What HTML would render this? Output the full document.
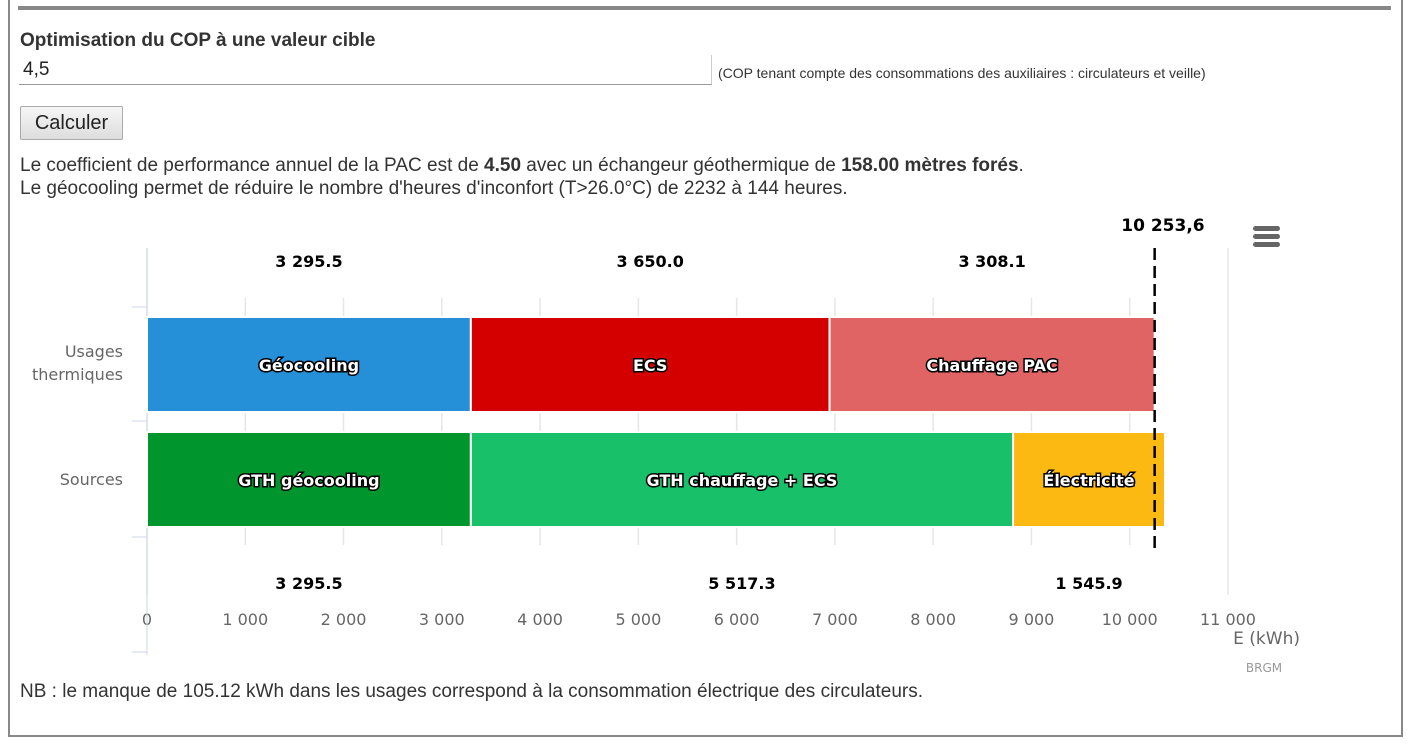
<!DOCTYPE html>
<html><head><meta charset="utf-8"><style>
body{margin:0;width:1410px;height:748px;background:#fff;font-family:"Liberation Sans",sans-serif;color:#333;position:relative;overflow:hidden}
.frame{position:absolute;left:8px;top:0;width:1391px;height:735px;border-left:2px solid #888;border-right:2px solid #888;border-bottom:2px solid #888}
.abs{position:absolute}
</style></head><body>
<div class="frame"></div>
<div class="abs" style="left:18px;top:6px;width:1373px;height:4px;background:#888"></div>
<div class="abs" style="left:20px;top:30px;font-size:19px;font-weight:bold;color:#333">Optimisation du COP à une valeur cible</div>
<div class="abs" style="left:19px;top:55px;width:688px;height:29px;border-bottom:1px solid #999;border-right:1px solid #ccc;font-size:19px;line-height:29px;padding-left:4px;color:#222">4,5</div>
<div class="abs" style="left:718px;top:65px;font-size:14px;color:#333">(COP tenant compte des consommations des auxiliaires : circulateurs et veille)</div>
<div class="abs" style="left:20px;top:106px;width:101px;height:32px;border:1px solid #aaa;border-radius:2px;background:linear-gradient(#f6f6f6,#ddd);font-size:20px;line-height:32px;text-align:center;color:#222">Calculer</div>
<div class="abs" style="left:20px;top:154px;font-size:19px;line-height:23px;color:#333">Le coefficient de performance annuel de la PAC est de <b>4.50</b> avec un échangeur géothermique de <b>158.00 mètres forés</b>.<br>Le géocooling permet de réduire le nombre d'heures d'inconfort (T&gt;26.0°C) de 2232 à 144 heures.</div>
<div class="abs" style="left:20px;top:681px;font-size:19px;color:#333">NB : le manque de 105.12 kWh dans les usages correspond à la consommation électrique des circulateurs.</div>
<svg class="abs" style="left:0;top:0" width="1410" height="748" id="chart"></svg>
<script>
const categories=["Usages thermiques","Sources"];
const thermalNames=["Géocooling","ECS","Chauffage PAC"];
const thermalValues=[3295.5,3650.0,3308.1];
const thermalLabels=["3 295.5","3 650.0","3 308.1"];
const sourceNames=["GTH géocooling","GTH chauffage + ECS","Électricité"];
const sourceValues=[3295.5,5517.3,1545.9];
const sourceLabels=["3 295.5","5 517.3","1 545.9"];
const ticks=[0,1000,2000,3000,4000,5000,6000,7000,8000,9000,10000,11000];
const tickLabels=["0","1 000","2 000","3 000","4 000","5 000","6 000","7 000","8 000","9 000","10 000","11 000"];
const totalValue=10253.6;
const totalLabel="10 253,6";
const thermalColors=["#2590d8","#d40000","#e06464"];
const sourceColors=["#00962d","#18c06a","#fbb912"];
const svg=document.getElementById('chart');const NS="http://www.w3.org/2000/svg";
const x=v=>147+v*(1228-147)/11000;
function el(t,a,txt){const e=document.createElementNS(NS,t);for(const k in a)e.setAttribute(k,a[k]);if(txt!=null)e.textContent=txt;svg.appendChild(e);return e;}
const F='"DejaVu Sans","Liberation Sans",sans-serif';
ticks.forEach((t,i)=>{
 const edge=(i==0||i==ticks.length-1);
 const g=el('line',{x1:x(t),x2:x(t),y1:edge?248:298,y2:edge?595:545,stroke:'#e6e6e6','stroke-width':1.5});
 
 const l=el('text',{x:x(t),y:625,'text-anchor':'middle','font-size':16,fill:'#666','font-family':F},tickLabels[i]);
 
});
el('line',{x1:147,x2:147,y1:248,y2:655,stroke:'#ccd6eb','stroke-width':1});
[307,421,537,652].forEach(y=>el('line',{x1:132,x2:147,y1:y,y2:y,stroke:'#ccd6eb'}));
const rows=[{y:317,names:thermalNames,vals:thermalValues,labs:thermalLabels,cols:thermalColors,ly:267,cat:'Usages',cat2:'thermiques'},
{y:432,names:sourceNames,vals:sourceValues,labs:sourceLabels,cols:sourceColors,ly:589,cat:'Sources'}];
rows.forEach((r,ri)=>{
 let acc=0;
 r.vals.forEach((v,i)=>{
  const x0=x(acc),x1=x(acc+v);acc+=v;
  const b=el('rect',{x:x0,y:r.y,width:x1-x0,height:95,fill:r.cols[i],stroke:'#fff','stroke-width':2});
  
  const t=el('text',{x:(x0+x1)/2,y:r.y+54,'text-anchor':'middle','font-size':16,'font-weight':'bold',fill:'#fff',stroke:'#000','stroke-width':3,'paint-order':'stroke','font-family':F},r.names[i]);
  
  const v2=el('text',{x:(x0+x1)/2,y:r.ly,'text-anchor':'middle','font-size':16,'font-weight':'bold',fill:'#000','font-family':F},r.labs[i]);
  
 });
 if(r.cat2){el('text',{x:123,y:357,'text-anchor':'end','font-size':16,fill:'#666','font-family':F},r.cat);el('text',{x:123,y:380,'text-anchor':'end','font-size':16,fill:'#666','font-family':F},r.cat2);}
 else el('text',{x:123,y:485,'text-anchor':'end','font-size':16,fill:'#666','font-family':F},r.cat);
});
const d=el('line',{x1:x(totalValue),x2:x(totalValue),y1:248,y2:548,stroke:'#000','stroke-width':2.5,'stroke-dasharray':'12,6'});

const tl=el('text',{x:x(totalValue)+50,y:231,'text-anchor':'end','font-size':17,'font-weight':'bold',fill:'#000','font-family':F},totalLabel);

el('text',{x:1300,y:644,'text-anchor':'end','font-size':17,fill:'#666','font-family':F},'E (kWh)');
el('text',{x:1264,y:672,'text-anchor':'middle','font-size':12,fill:'#999','font-family':F},'BRGM');
[226,234,242].forEach(y=>{const m=el('rect',{x:1253,y:y,width:27,height:5,rx:2.5,fill:'#666'});});
</script>
</body></html>
